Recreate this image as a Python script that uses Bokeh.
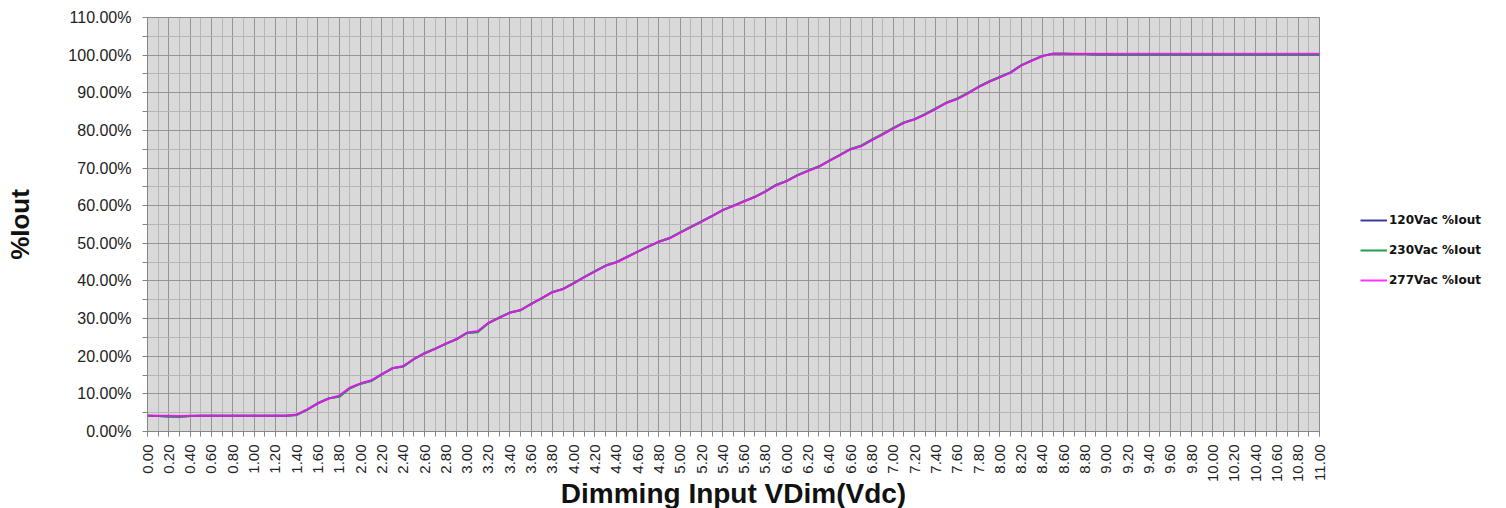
from math import pi
from bokeh.plotting import figure
from bokeh.models import (FixedTicker, PrintfTickFormatter, Legend, LegendItem,
                          Range1d)
from bokeh.embed import file_html
from bokeh.resources import INLINE

# ---------------- data ----------------
volts = [round(i * 0.1, 1) for i in range(111)]  # 0.0 .. 11.0 V

pct_120 = [
    4.2, 4.1, 4.0, 3.9, 4.1, 4.2, 4.2, 4.2, 4.2, 4.2,
    4.2, 4.2, 4.2, 4.2, 4.4, 5.8, 7.5, 8.8, 9.3, 11.5,
    12.7, 13.5, 15.2, 16.8, 17.3, 19.2, 20.8, 22.0, 23.3, 24.5,
    26.2, 26.5, 28.8, 30.2, 31.6, 32.2, 33.9, 35.4, 37.0, 37.9,
    39.4, 41.0, 42.6, 44.1, 45.0, 46.4, 47.8, 49.1, 50.4, 51.4,
    52.9, 54.3, 55.8, 57.3, 58.8, 60.0, 61.2, 62.3, 63.8, 65.5,
    66.6, 68.1, 69.3, 70.4, 72.0, 73.5, 75.0, 75.9, 77.5, 79.0,
    80.6, 82.1, 83.0, 84.3, 85.8, 87.4, 88.4, 89.9, 91.6, 93.0,
    94.2, 95.4, 97.3, 98.6, 99.8, 100.4, 100.4, 100.3, 100.3, 100.2,
    100.2, 100.1, 100.1, 100.1, 100.1, 100.1, 100.1, 100.1, 100.1, 100.1,
    100.1, 100.1, 100.1, 100.1, 100.1, 100.1, 100.1, 100.1, 100.1, 100.1, 100.1,
]

pct_230 = [
    4.2, 4.1, 4.0, 3.9, 4.1, 4.2, 4.2, 4.2, 4.2, 4.2,
    4.2, 4.2, 4.2, 4.2, 4.4, 5.8, 7.6, 8.8, 9.2, 11.5,
    12.7, 13.4, 15.2, 16.9, 17.2, 19.2, 20.8, 22.0, 23.3, 24.6,
    26.2, 26.4, 28.8, 30.3, 31.6, 32.2, 33.9, 35.4, 37.1, 37.9,
    39.4, 41.1, 42.6, 44.1, 45.0, 46.4, 47.8, 49.2, 50.4, 51.4,
    52.9, 54.4, 55.8, 57.3, 58.8, 60.0, 61.2, 62.4, 63.8, 65.5,
    66.6, 68.1, 69.3, 70.4, 72.0, 73.5, 75.1, 76.0, 77.6, 79.1,
    80.7, 82.1, 83.0, 84.4, 85.9, 87.4, 88.5, 90.0, 91.6, 93.0,
    94.2, 95.4, 97.3, 98.6, 99.8, 100.4, 100.4, 100.3, 100.3, 100.2,
    100.2, 100.1, 100.1, 100.1, 100.1, 100.1, 100.1, 100.1, 100.1, 100.1,
    100.1, 100.1, 100.1, 100.1, 100.1, 100.1, 100.1, 100.1, 100.1, 100.1, 100.1,
]

pct_277 = [
    4.2, 4.2, 4.2, 4.1, 4.2, 4.2, 4.2, 4.2, 4.2, 4.2,
    4.2, 4.2, 4.2, 4.2, 4.5, 5.9, 7.5, 8.7, 9.6, 11.7,
    12.8, 13.6, 15.3, 16.8, 17.4, 19.3, 20.7, 21.9, 23.4, 24.5,
    26.3, 26.7, 28.9, 30.2, 31.5, 32.3, 33.8, 35.5, 37.0, 37.8,
    39.3, 41.0, 42.5, 44.0, 44.9, 46.3, 47.7, 49.1, 50.5, 51.3,
    52.8, 54.3, 55.7, 57.2, 58.9, 59.9, 61.1, 62.3, 63.7, 65.4,
    66.5, 68.0, 69.2, 70.3, 71.9, 73.4, 75.0, 75.8, 77.4, 78.9,
    80.5, 82.0, 82.9, 84.2, 85.7, 87.3, 88.3, 89.8, 91.5, 92.9,
    94.1, 95.3, 97.2, 98.5, 99.7, 100.4, 100.4, 100.4, 100.4, 100.4,
    100.4, 100.4, 100.4, 100.4, 100.4, 100.4, 100.4, 100.4, 100.4, 100.4,
    100.4, 100.4, 100.4, 100.4, 100.4, 100.4, 100.4, 100.4, 100.4, 100.4, 100.4,
]

series_names = ["120Vac %Iout", "230Vac %Iout", "277Vac %Iout"]
x_major = [round(i * 0.2, 1) for i in range(56)]
x_minor = [round(i * 0.1, 1) for i in range(111)]
y_major = [i * 10 for i in range(12)]
y_minor = [5 + i * 10 for i in range(11)]
x_title = "Dimming Input VDim(Vdc)"
y_title = "%Iout"

# ---------------- figure ----------------
p = figure(frame_width=1172, frame_height=414,
           x_range=Range1d(0, 11), y_range=Range1d(0, 110),
           output_backend="svg", toolbar_location=None,
           min_border_left=147, min_border_right=187,
           min_border_top=17, min_border_bottom=77,
           background_fill_color="#d9d9d9", border_fill_color="white",
           outline_line_color="#8c8c8c")

r1 = p.line(volts, pct_120, line_color="#3b3b9c", line_width=2)
r2 = p.line(volts, pct_230, line_color="#1f9e55", line_width=2)
r3 = p.line(volts, pct_277, line_color="#ff00ff", line_width=2, line_alpha=0.8)

xt = FixedTicker(ticks=x_major, minor_ticks=x_minor)
yt = FixedTicker(ticks=y_major, minor_ticks=y_minor)
p.xaxis.ticker = xt
p.yaxis.ticker = yt
p.xgrid.ticker = xt
p.ygrid.ticker = yt

p.xaxis.formatter = PrintfTickFormatter(format="%.2f")
p.yaxis.formatter = PrintfTickFormatter(format="%.2f%%")
p.xaxis.major_label_orientation = pi / 2

for ax in (p.xaxis, p.yaxis):
    ax.axis_line_color = "#868686"
    ax.major_tick_line_color = "#868686"
    ax.minor_tick_line_color = "#868686"
    ax.major_tick_out = 5
    ax.major_tick_in = 0
    ax.minor_tick_out = 5
    ax.minor_tick_in = 0
    ax.major_label_text_font = "Liberation Sans"
    ax.major_label_text_color = "#222222"
    ax.axis_label_text_font = "Liberation Sans"
    ax.axis_label_text_font_style = "bold"
    ax.axis_label_text_color = "#111111"

p.xaxis.major_label_text_font_size = "15px"
p.yaxis.major_label_text_font_size = "16px"
p.xaxis.major_label_standoff = 8
p.yaxis.major_label_standoff = 11

p.xaxis.axis_label = x_title
p.xaxis.axis_label_text_font_size = "28px"
p.xaxis.axis_label_standoff = -7
p.yaxis.axis_label = y_title
p.yaxis.axis_label_text_font_size = "26px"
p.yaxis.axis_label_standoff = 30

for g in (p.xgrid, p.ygrid):
    g.grid_line_color = "#959595"
    g.grid_line_width = 1
    g.minor_grid_line_color = "#b6b6b6"
    g.minor_grid_line_width = 1

legend = Legend(items=[LegendItem(label=series_names[0], renderers=[r1]),
                       LegendItem(label=series_names[1], renderers=[r2]),
                       LegendItem(label=series_names[2], renderers=[r3])],
                location=(41, 141), orientation="vertical",
                glyph_width=27, glyph_height=20, label_height=20,
                label_standoff=2, spacing=10, padding=0, margin=0,
                label_text_font="DejaVu Sans", label_text_font_style="bold",
                label_text_font_size="12px", label_text_color="#111111",
                background_fill_alpha=0, border_line_alpha=0)
p.add_layout(legend, "right")

open("out.html", "w").write(file_html(p, INLINE))
